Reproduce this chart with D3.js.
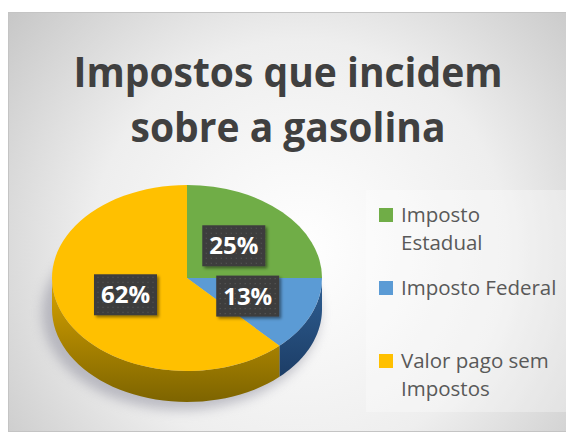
<!DOCTYPE html>
<html>
<head>
<meta charset="utf-8">
<script src="https://cdn.jsdelivr.net/npm/d3@7"></script>
<style>
  body { margin: 0; background: #fff; }
  svg { display: block; }
</style>
</head>
<body>
<svg id="chart" width="566" height="441"></svg>
<script>
// data
let categories = ["Imposto Estadual", "Imposto Federal", "Valor pago sem Impostos"];
let values = [25, 13, 62];
let legendLines = [["Imposto", "Estadual"], ["Imposto Federal"], ["Valor pago sem", "Impostos"]];
let titleLines = ["Impostos que incidem", "sobre a gasolina"];

let topColors = ["#70ad47", "#5b9bd5", "#ffc000"];
let sideTop = ["#4e7a31", "#2f5f93", "#d9a400"];
let sideBottom = ["#3a5c24", "#1c3d66", "#7d6400"];

let svg = d3.select("#chart");
let defs = svg.append("defs");

// background gradient
let bg = defs.append("radialGradient").attr("id", "bg")
  .attr("gradientUnits", "userSpaceOnUse")
  .attr("cx", 300).attr("cy", 250).attr("r", 380);
bg.append("stop").attr("offset", "0").attr("stop-color", "#ffffff");
bg.append("stop").attr("offset", "0.55").attr("stop-color", "#eeeeee");
bg.append("stop").attr("offset", "1").attr("stop-color", "#c6c6c6");

svg.append("rect")
  .attr("x", 8.5).attr("y", 12.5)
  .attr("width", 570).attr("height", 419)
  .attr("fill", "url(#bg)")
  .attr("stroke", "#c4c4c4");

// legend box, a little lighter
svg.append("rect")
  .attr("x", 366).attr("y", 190)
  .attr("width", 200).attr("height", 222)
  .attr("fill", "#ffffff").attr("opacity", 0.3);

// title
let title = svg.append("g")
  .attr("font-family", "'Open Sans', sans-serif")
  .attr("font-weight", 700)
  .attr("font-size", 41)
  .attr("fill", "#404040")
  .attr("text-anchor", "middle");

let titleWidths = [429, 315];
title.selectAll("text")
  .data(titleLines)
  .join("text")
  .attr("x", 288)
  .attr("y", (d, i) => 87 + i * 55)
  .text(d => d)
  .each(function(d, i) {
    if (this.getComputedTextLength() > titleWidths[i]) {
      d3.select(this).attr("textLength", titleWidths[i]).attr("lengthAdjust", "spacingAndGlyphs");
    }
  });

// pie geometry
let cx = 187, cy = 278, rx = 135, ry = 93, depth = 31;

let pie = d3.pie().sort(null).value(d => d);
let arcs = pie(values);

let ex = a => cx + rx * Math.sin(a);
let ey = a => cy - ry * Math.cos(a);

// shadow
let blur = defs.append("filter").attr("id", "blur")
  .attr("x", "-30%").attr("y", "-30%").attr("width", "160%").attr("height", "160%");
blur.append("feGaussianBlur").attr("stdDeviation", 6);

svg.append("ellipse")
  .attr("cx", cx - 6).attr("cy", cy + depth + 4)
  .attr("rx", rx + 4).attr("ry", ry + 4)
  .attr("fill", "#8a8a9a").attr("opacity", 0.5)
  .attr("filter", "url(#blur)");

// side walls (only front half is visible)
arcs.forEach(function(d, i) {
  let g = defs.append("linearGradient").attr("id", "side" + i)
    .attr("x1", 0).attr("y1", 0).attr("x2", 0).attr("y2", 1);
  g.append("stop").attr("offset", "0").attr("stop-color", sideTop[i]);
  g.append("stop").attr("offset", "1").attr("stop-color", sideBottom[i]);
});

let sides = [];
arcs.forEach(function(d, i) {
  let a0 = Math.max(d.startAngle, Math.PI / 2);
  let a1 = Math.min(d.endAngle, Math.PI * 3 / 2);
  if (a1 > a0) sides.push({ i: i, a0: a0, a1: a1 });
});

svg.selectAll("path.side")
  .data(sides)
  .join("path")
  .attr("class", "side")
  .attr("fill", d => "url(#side" + d.i + ")")
  .attr("d", function(d) {
    let steps = d3.range(0, 41).map(k => d.a0 + (d.a1 - d.a0) * k / 40);
    let p = d3.path();
    steps.forEach((a, k) => k ? p.lineTo(ex(a), ey(a)) : p.moveTo(ex(a), ey(a)));
    steps.slice().reverse().forEach(a => p.lineTo(ex(a), ey(a) + depth));
    p.closePath();
    return p.toString();
  });

// top face
let arc = d3.arc().innerRadius(0).outerRadius(rx);
let topFace = svg.append("g")
  .attr("transform", "translate(" + cx + "," + cy + ") scale(1," + (ry / rx) + ")");

topFace.selectAll("path")
  .data(arcs)
  .join("path")
  .attr("d", arc)
  .attr("fill", (d, i) => topColors[i]);

// data labels
let pat = defs.append("pattern").attr("id", "dots")
  .attr("patternUnits", "userSpaceOnUse")
  .attr("width", 5).attr("height", 5);
pat.append("rect").attr("width", 5).attr("height", 5).attr("fill", "#3e3e3e");
pat.append("rect").attr("x", 2).attr("y", 2).attr("width", 1).attr("height", 1).attr("fill", "#5c5c5c");

let shadow = defs.append("filter").attr("id", "shadow")
  .attr("x", "-20%").attr("y", "-20%").attr("width", "150%").attr("height", "150%");
shadow.append("feDropShadow")
  .attr("dx", 2).attr("dy", 2).attr("stdDeviation", 1.5)
  .attr("flood-color", "#000").attr("flood-opacity", 0.45);

let labelArc = d3.arc().innerRadius(rx * 0.49).outerRadius(rx * 0.49);
let bw = 63, bh = 41;

let labels = svg.selectAll("g.label")
  .data(arcs)
  .join("g")
  .attr("class", "label")
  .attr("transform", function(d) {
    let c = labelArc.centroid(d);
    return "translate(" + (cx + c[0]) + "," + (cy + c[1] * ry / rx) + ")";
  });

labels.append("rect")
  .attr("x", -bw / 2).attr("y", -bh / 2)
  .attr("width", bw).attr("height", bh)
  .attr("fill", "url(#dots)")
  .attr("filter", "url(#shadow)");

labels.append("text")
  .attr("text-anchor", "middle")
  .attr("dy", "0.36em")
  .attr("font-family", "'Open Sans', sans-serif")
  .attr("font-weight", 700)
  .attr("font-size", 24)
  .attr("fill", "#ffffff")
  .text(d => Math.round(d.value / d3.sum(values) * 100) + "%");

// legend
let legend = svg.append("g")
  .attr("font-family", "'Open Sans', sans-serif")
  .attr("font-size", 20.5)
  .attr("fill", "#595959");

let items = legend.selectAll("g")
  .data(categories)
  .join("g")
  .attr("transform", (d, i) => "translate(379," + (222 + i * 73) + ")");

items.append("rect")
  .attr("x", 0).attr("y", -14)
  .attr("width", 14).attr("height", 14)
  .attr("fill", (d, i) => topColors[i]);

items.each(function(d, i) {
  d3.select(this).selectAll("text")
    .data(legendLines[i])
    .join("text")
    .attr("x", 22)
    .attr("y", (t, j) => j * 28)
    .text(t => t)
    .each(function() {
      if (this.getComputedTextLength() > 156) {
        d3.select(this).attr("textLength", 156).attr("lengthAdjust", "spacingAndGlyphs");
      }
    });
});
</script>
</body>
</html>
